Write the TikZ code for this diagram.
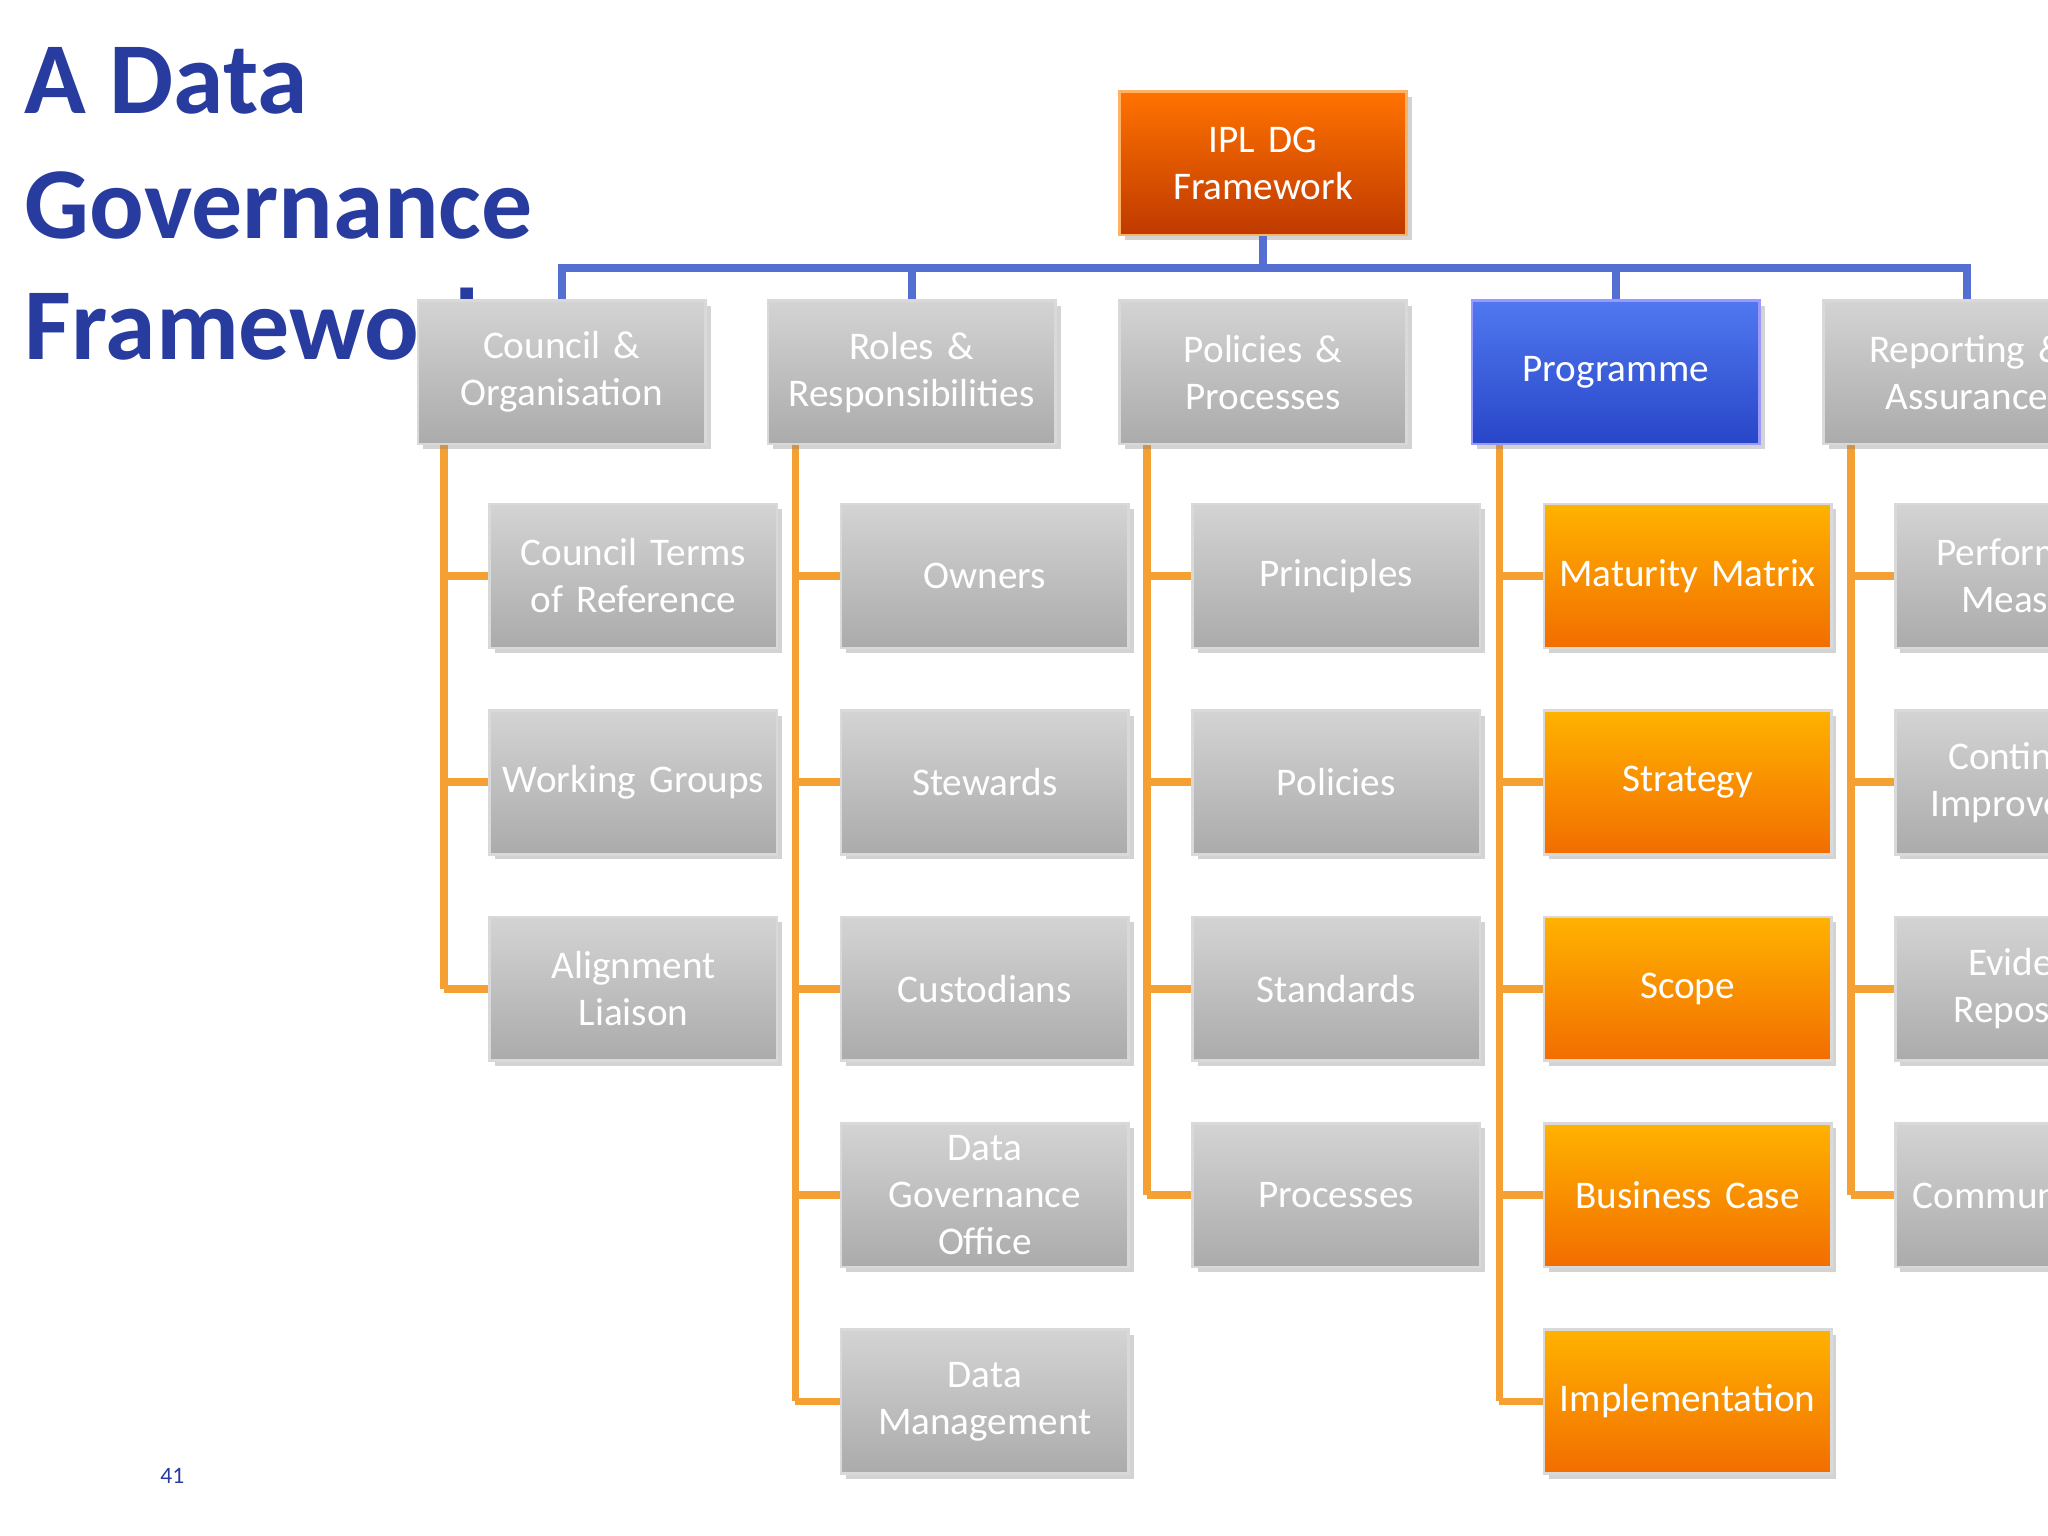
\documentclass[tikz,border=0pt]{standalone}
\usepackage{fontspec}
\setmainfont{Carlito}
\usetikzlibrary{shadows}
\begin{document}
\begin{tikzpicture}[x=0.5pt,y=-0.5pt,
 box/.style={draw=white!85!black,line width=1pt,minimum width=110pt,minimum height=55pt,text width=106pt,align=center,
   text=white,font=\fontsize{15}{18}\selectfont,inner sep=0pt,drop shadow={opacity=0.35,shadow xshift=2pt,shadow yshift=-2pt}},
 gray/.style={box,top color=black!17,bottom color=black!33},
 org/.style={box,top color=orange!60!yellow,bottom color=orange!90!red!95!black},
 blu/.style={box,top color={rgb,255:red,80;green,120;blue,240},bottom color={rgb,255:red,40;green,70;blue,200},draw=blue!40},
 topb/.style={box,top color=orange!90!red,bottom color=orange!60!red!75!black,draw=orange!60},
 bl/.style={line width=3pt,color={rgb,255:red,85;green,110;blue,210}},
 ol/.style={line width=3pt,color={rgb,255:red,245;green,160;blue,50}},
 ttl/.style={anchor=west,font=\fontsize{39}{46}\selectfont\bfseries,text={rgb,255:red,40;green,60;blue,160}}]
\useasboundingbox (0,0) rectangle (1568,1176);
\clip (0,0) rectangle (1568,1176);
\node[ttl] (title) at (12,62) {A Data};
\node[ttl] (t2) at (12,157) {Governance};
\node[ttl] (t3) at (12,248) {Framework};
\node[font=\fontsize{9}{11}\selectfont,text={rgb,255:red,40;green,60;blue,160}] (pg) at (132,1130) {41};
\node[topb] (top) at (967,125) {IPL DG\\Framework};
\coordinate (h) at (967,205);
\coordinate (v1) at (340,0);
\coordinate (v2) at (609,0);
\coordinate (v3) at (878,0);
\coordinate (v4) at (1148,0);
\coordinate (v5) at (1417,0);
\draw[ol] (v1|-0,340) -- (v1|-0,757);
\draw[ol] (v2|-0,340) -- (v2|-0,1073);
\draw[ol] (v3|-0,340) -- (v3|-0,915);
\draw[ol] (v4|-0,340) -- (v4|-0,1073);
\draw[ol] (v5|-0,340) -- (v5|-0,915);
\draw[bl] (top.south) -- (h);
\draw[bl] (430,230) |- (h) -| (1506,230);
\draw[bl] (698,230) -- (698,205);
\draw[bl] (1237,230) -- (1237,205);
\node[gray] (c1) at (430,285) {Council \&\\Organisation};
\node[gray] (c2) at (698,285) {Roles \&\\Responsibilities};
\node[gray] (c3) at (967,285) {Policies \&\\Processes};
\node[blu] (c4) at (1237,285) {Programme};
\node[gray] (c5) at (1506,285) {Reporting \&\\Assurance};
\foreach \c/\v/\x/\st/\lst in {1/v1/485/gray/{1/{Council Terms\\of Reference},2/Working Groups,3/{Alignment\\Liaison}},
  2/v2/754/gray/{1/Owners,2/Stewards,3/Custodians,4/{Data\\Governance\\Office},5/{Data\\Management}},
  3/v3/1023/gray/{1/Principles,2/Policies,3/Standards,4/Processes},
  4/v4/1292/org/{1/Maturity Matrix,2/Strategy,3/Scope,4/Business Case,5/Implementation},
  5/v5/1561/gray/{1/{Performance\\Measures},2/{Continuous\\Improvement},3/{Evidence\\Repository},4/Communication}}{
  \foreach \r/\t in \lst {
    \pgfmathsetmacro{\yy}{441+158*(\r-1)}
    \node[\st] (n\c\r) at (\x,\yy) {\t};
    \draw[ol] (\v|-n\c\r.west) -- (n\c\r.west);
  }}
\end{tikzpicture}
\end{document}
